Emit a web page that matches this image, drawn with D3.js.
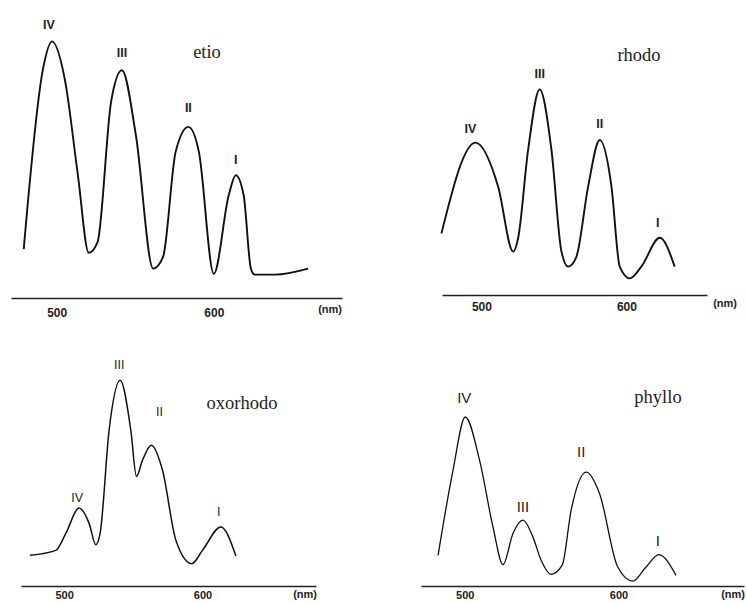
<!DOCTYPE html>
<html>
<head>
<meta charset="utf-8">
<script src="https://cdn.jsdelivr.net/npm/d3@7"></script>
<style>
  body { margin: 0; background: #fff; overflow: hidden; }
  .tick text { font-family: "Liberation Sans", Arial, sans-serif; font-weight: bold; fill: #222; }
  .peak { font-family: "Liberation Sans Narrow", "Liberation Sans", Arial, sans-serif; fill: #222; }
  .name { font-family: "Liberation Serif", "Times New Roman", serif; font-size: 18.5px; fill: #222; }
  .unit { font-family: "Liberation Sans", Arial, sans-serif; font-size: 11px; font-weight: bold; fill: #222; }
</style>
</head>
<body>
<div id="chart"></div>
<script>
//************************************************************************
// data: wavelength (nm) and relative absorbance
//************************************************************************
var etioNm   = [479, 491.3, 497, 505.1, 513.5, 520.4, 526, 534.6, 541.5, 550.4, 561.4, 567.7, 575.7, 583.8, 590.5, 600, 609.5, 614, 619, 623.6, 626, 639, 660];
var etioAbs  = [0.188, 0.882, 0.987, 0.843, 0.472, 0.174, 0.215, 0.754, 0.876, 0.626, 0.113, 0.158, 0.562, 0.658, 0.562, 0.093, 0.395, 0.472, 0.395, 0.113, 0.090, 0.090, 0.113];

var rhodoNm  = [472.4, 495.9, 511.5, 521.9, 525.3, 532.2, 540.2, 548.3, 555.2, 559.8, 565.5, 573.6, 581.6, 589.7, 595.4, 602.3, 610.3, 623.0, 633.3];
var rhodoAbs = [0.237, 0.586, 0.417, 0.167, 0.218, 0.558, 0.791, 0.558, 0.167, 0.109, 0.147, 0.417, 0.596, 0.417, 0.109, 0.064, 0.109, 0.220, 0.109];

var oxoNm    = [475.2, 494.0, 501.2, 510.8, 518.1, 522.9, 526.0, 532.5, 540.5, 548.2, 552.3, 556.6, 563.1, 571.1, 580.8, 592.3, 600, 613.3, 624.2];
var oxoAbs   = [0.118, 0.137, 0.202, 0.300, 0.240, 0.159, 0.202, 0.599, 0.791, 0.599, 0.422, 0.483, 0.541, 0.445, 0.176, 0.086, 0.137, 0.227, 0.115];

var phylloNm  = [482.7, 492.4, 500.4, 509.7, 518.4, 524.9, 531.4, 537.9, 544.4, 549.7, 556.2, 563.4, 569.2, 579.0, 587.7, 599.5, 609.3, 617.9, 626.2, 637.4];
var phylloAbs = [0.118, 0.445, 0.650, 0.483, 0.227, 0.082, 0.202, 0.253, 0.188, 0.099, 0.045, 0.080, 0.291, 0.438, 0.355, 0.073, 0.019, 0.073, 0.121, 0.041];

// band labels and the wavelength of the band they sit above
var bandLabels = ["IV", "III", "II", "I"];
var etioBands   = [497, 541.5, 583.8, 614];
var rhodoBands  = [495.9, 540.2, 581.6, 623.0];
var oxoBands    = [510.8, 540.5, 563.1, 613.3];
var phylloBands = [500.4, 537.9, 579.0, 626.2];

var tickValues = [500, 600];

//************************************************************************
// panel layout (pixel positions of each small plot)
//************************************************************************
var panels = [
  { name: "etio", nm: etioNm, abs: etioAbs, bands: etioBands,
    dom: [470.9, 681.6], rng: [11, 342], base: 298, pad: 10.5, tickSize: 12,
    nameX: 207, nameY: 58, gap: [12, 13, 15, 11], dx: [-3, 0, 0, 0],
    peakSize: 12.5, peakWeight: "bold",
    unitX: 342, unitY: 313, stroke: 1.9 },
  { name: "rhodo", nm: rhodoNm, abs: rhodoAbs, bands: rhodoBands,
    dom: [472.8, 655.6], rng: [442, 707], base: 295, pad: 7.5, tickSize: 12,
    nameX: 639, nameY: 61, gap: [10, 11, 12, 11], dx: [-5, 0, 0, -2],
    peakSize: 12.5, peakWeight: "bold",
    unitX: 737, unitY: 307, stroke: 1.9 },
  { name: "oxorhodo", nm: oxoNm, abs: oxoAbs, bands: oxoBands,
    dom: [468.8, 682.1], rng: [21, 316], base: 586, pad: 5.5, tickSize: 11,
    nameX: 242, nameY: 409, gap: [6, 11, 29, 11], dx: [-2, -1, 8, -2],
    peakSize: 12.5, peakWeight: "normal",
    unitX: 317, unitY: 598, stroke: 1.5 },
  { name: "phyllo", nm: phylloNm, abs: phylloAbs, bands: phylloBands,
    dom: [471.6, 681.6], rng: [421, 744], base: 586, pad: 5.5, tickSize: 11,
    nameX: 658, nameY: 403, gap: [14, 8, 15, 9], dx: [-1, 0, -5, -1],
    peakSize: 15, peakWeight: "normal",
    unitX: 745, unitY: 598, stroke: 1.3 }
];

//************************************************************************
// create svg element
//************************************************************************
var svg = d3.select("#chart")
  .append("svg")
  .attr("width", 747)
  .attr("height", 603)
  .style("display", "block");

panels.forEach(function (p) {
  var x = d3.scaleLinear().domain(p.dom).range(p.rng);
  var y = d3.scaleLinear().domain([0, 1]).range([p.base, p.base - 260]);

  var g = svg.append("g");

  // axis
  var axis = d3.axisBottom(x)
    .tickValues(tickValues)
    .tickSizeInner(0)
    .tickSizeOuter(0)
    .tickPadding(p.pad)
    .tickFormat(d3.format("d"));

  var ax = g.append("g")
    .attr("transform", `translate(0, ${p.base})`)
    .call(axis);
  ax.select(".domain").attr("stroke", "#222").attr("stroke-width", 1.5);
  ax.selectAll(".tick text").style("font-size", p.tickSize + "px");

  g.append("text")
    .attr("class", "unit")
    .attr("x", p.unitX)
    .attr("y", p.unitY)
    .attr("text-anchor", "end")
    .text("(nm)");

  // spectrum
  var pts = p.nm.map(function (d, i) { return [d, p.abs[i]]; });
  var line = d3.line()
    .x(d => x(d[0]))
    .y(d => y(d[1]))
    .curve(d3.curveMonotoneX);

  g.append("path")
    .datum(pts)
    .attr("fill", "none")
    .attr("stroke", "#111")
    .attr("stroke-width", p.stroke)
    .attr("stroke-linejoin", "round")
    .attr("d", line);

  // band labels
  p.bands.forEach(function (b, i) {
    var idx = p.nm.indexOf(b);
    g.append("text")
      .attr("class", "peak")
      .attr("x", x(b) + p.dx[i])
      .attr("y", y(p.abs[idx]) - p.gap[i])
      .attr("text-anchor", "middle")
      .style("font-size", p.peakSize + "px")
      .style("font-weight", p.peakWeight)
      .text(bandLabels[i]);
  });

  // compound name
  g.append("text")
    .attr("class", "name")
    .attr("x", p.nameX)
    .attr("y", p.nameY)
    .attr("text-anchor", "middle")
    .text(p.name);
});
</script>
</body>
</html>
